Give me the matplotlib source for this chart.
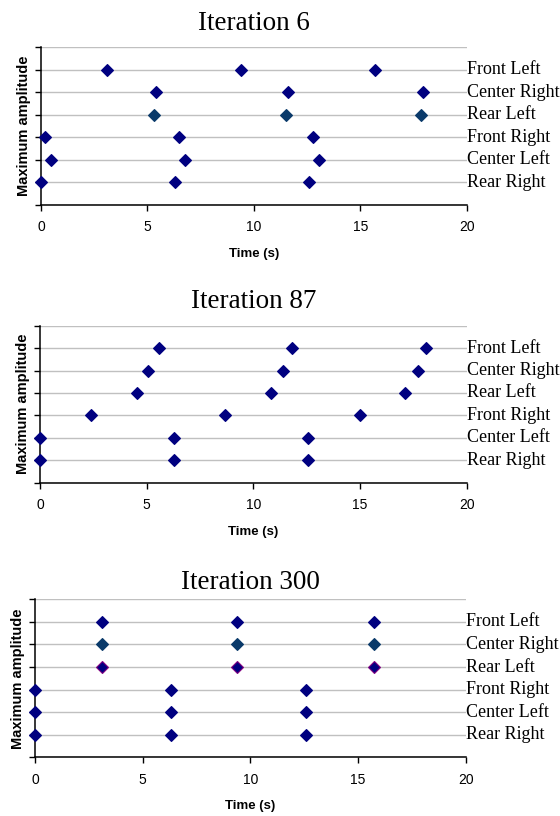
import matplotlib.pyplot as plt

# channel rows, bottom to top
channels = ['Rear Right', 'Center Left', 'Front Right', 'Rear Left', 'Center Right', 'Front Left']

# peak times (s) per channel
it6_times = [
    [0.0, 6.29, 12.58],     # Rear Right
    [0.47, 6.76, 13.05],    # Center Left
    [0.19, 6.48, 12.77],    # Front Right
    [5.3, 11.5, 17.84],     # Rear Left
    [5.4, 11.6, 17.93],     # Center Right
    [3.1, 9.39, 15.68],     # Front Left
]
it87_times = [
    [0.0, 6.28, 12.57],
    [0.0, 6.29, 12.58],
    [2.39, 8.69, 14.98],
    [4.55, 10.85, 17.13],
    [5.07, 11.4, 17.7],
    [5.57, 11.8, 18.08],
]
it300_times = [
    [0.0, 6.3, 12.6],
    [0.0, 6.3, 12.6],
    [0.0, 6.3, 12.6],
    [3.13, 9.4, 15.72],
    [3.13, 9.4, 15.72],
    [3.13, 9.4, 15.72],
]

titles = ['Iteration 6', 'Iteration 87', 'Iteration 300']
all_times = [it6_times, it87_times, it300_times]

# marker face / edge colours (a few series look slightly different)
face_colors = [
    ['#000080', '#000080', '#000080', '#0a3a6a', '#000080', '#000080'],
    ['#000080'] * 6,
    ['#000080', '#000080', '#000080', '#000080', '#0a3a6a', '#000080'],
]
edge_colors = [
    ['#000080', '#000080', '#000080', '#0a3a6a', '#000080', '#000080'],
    ['#000080'] * 6,
    ['#000080', '#000080', '#000080', '#800080', '#0a3a6a', '#000080'],
]

# axes rectangles in figure fractions
positions = [
    [0.0732, 0.7488, 0.7607, 0.1936],
    [0.0714, 0.4085, 0.7620, 0.1924],
    [0.0625, 0.0719, 0.7691, 0.1936],
]
title_pads = [12, 13, 7.5]

fig = plt.figure(figsize=(5.6, 8.16), dpi=100)

for i in range(3):
    ax = fig.add_axes(positions[i])
    times = all_times[i]
    for row, name in enumerate(channels):
        y = row + 1
        ax.plot(times[row], [y] * len(times[row]), linestyle='none', marker='D',
                markersize=6.2, markerfacecolor=face_colors[i][row],
                markeredgecolor=edge_colors[i][row], markeredgewidth=0.8,
                clip_on=False, zorder=5)
        ax.text(1.0, y, name, transform=ax.get_yaxis_transform(), ha='left',
                va='center', fontsize=13, family='Liberation Serif', color='black')

    ax.set_xlim(0, 20)
    ax.set_ylim(0, 7)
    ax.set_xticks([0, 5, 10, 15, 20])
    ax.set_yticks(range(8))
    ax.set_yticklabels([])
    ax.grid(axis='y', color='#c0c0c0', linewidth=1.0)
    ax.set_axisbelow(True)
    for side in ['top', 'right']:
        ax.spines[side].set_visible(False)
    for side in ['left', 'bottom']:
        ax.spines[side].set_linewidth(1.1)
        ax.spines[side].set_color('black')
    ax.tick_params(axis='both', direction='out', length=4, width=1.0, color='black')
    ax.tick_params(axis='x', pad=7, labelsize=10)
    for lbl in ax.get_xticklabels():
        lbl.set_family('Liberation Sans')

    ax.set_xlabel('Time (s)', fontsize=9.5, fontweight='bold', family='Liberation Sans', labelpad=10)
    ax.set_ylabel('Maximum amplitude', fontsize=10.5, fontweight='bold', family='Liberation Sans', labelpad=0)
    ax.set_title(titles[i], fontsize=19.5, family='Liberation Serif', pad=title_pads[i])

fig.savefig('out.png', dpi=100)
